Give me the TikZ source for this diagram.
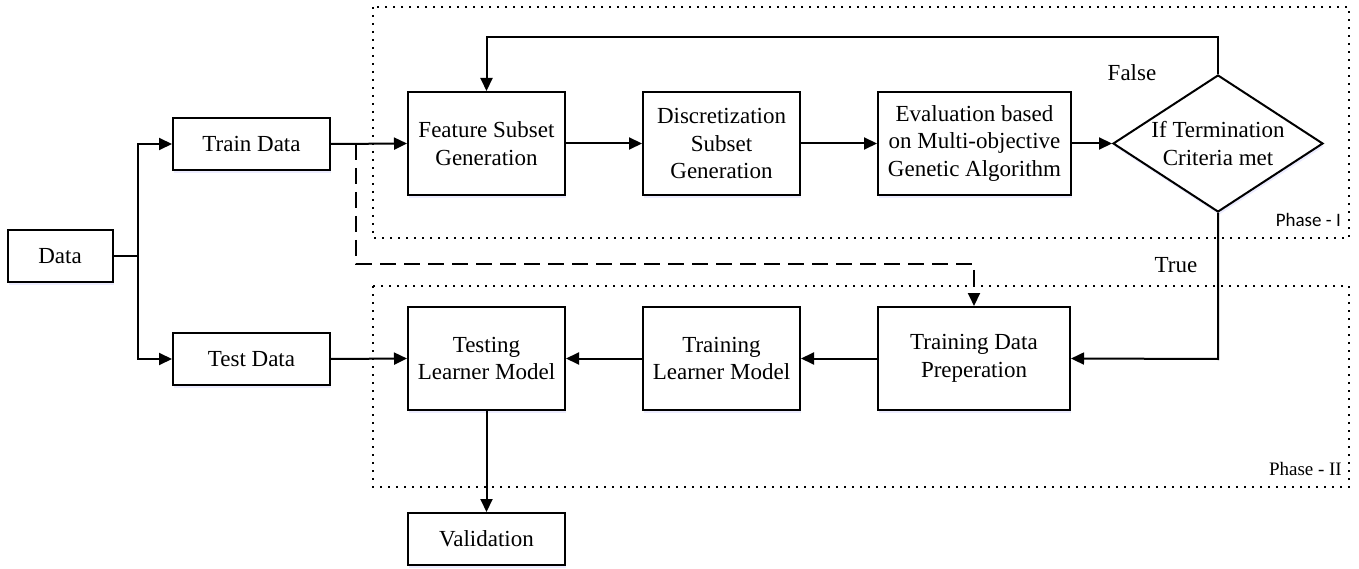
\documentclass[tikz,border=0pt]{standalone}
\usepackage{fontspec}
\setmainfont{Liberation Serif}
\newfontfamily\phasefont{Carlito}
\usetikzlibrary{shapes.geometric,arrows.meta,shadows}
\begin{document}
\begin{tikzpicture}[x=1pt,y=-1pt,
  every node/.style={font=\fontsize{23}{27.5}\selectfont},
  soft/.style={drop shadow={shadow xshift=1pt, shadow yshift=-3pt, fill=blue!12, opacity=0.6}},
  box/.style={draw, line width=2pt, inner sep=0pt, align=center, fill=white, soft},
  cond/.style={draw, line width=2pt, shape=diamond, aspect=1.53, inner sep=0pt,
    minimum width=210pt, minimum height=137pt, align=center, fill=white, soft},
  conn/.style={line width=2pt},
  arr/.style={conn, -{Triangle[length=13pt,width=12pt]}},
  dasharr/.style={arr, dash pattern=on 16pt off 8pt},
  phase/.style={draw, line width=1.6pt, dash pattern=on 1.6pt off 6.4pt, line cap=butt},
  lbl/.style={inner sep=0pt}
]
\useasboundingbox (0,0) rectangle (1359,569);
% phase regions
\draw[phase] (373,7) rectangle (1349,238);
\draw[phase] (373,286) rectangle (1349,487);
\node[lbl, anchor=base east, font=\phasefont\fontsize{19}{22}\selectfont] (p1) at (1341,227) {Phase - I};
\node[lbl, anchor=base east, font=\fontsize{19}{22}\selectfont] (p2) at (1342,475) {Phase - II};

% nodes
\node[box, minimum width=105pt, minimum height=51pt] (data) at (60,256) {Data};
\node[box, minimum width=157pt, minimum height=52pt] (train) at (251.5,144) {Train Data};
\node[box, minimum width=157pt, minimum height=52pt] (test) at (251.5,359) {Test Data};
\node[box, minimum width=157pt, minimum height=103pt] (feat) at (486.5,143.5) {Feature Subset\\Generation};
\node[box, minimum width=157pt, minimum height=103pt] (disc) at (721.5,143.5) {Discretization\\Subset\\Generation};
\node[box, minimum width=193pt, minimum height=103pt] (eval) at (974.5,143.5) {Evaluation based\\on Multi-objective\\Genetic Algorithm};
\node[cond] (dia) at (1218,143.5) {If Termination\\Criteria met};
\node[box, minimum width=192pt, minimum height=103pt] (tdp) at (974,358.5) {Training Data\\Preperation};
\node[box, minimum width=157pt, minimum height=103pt] (tlm) at (721.5,358.5) {Training\\Learner Model};
\node[box, minimum width=157pt, minimum height=103pt] (testing) at (486.5,358.5) {Testing\\Learner Model};
\node[box, minimum width=157pt, minimum height=52pt] (valid) at (486.5,539) {Validation};

\node[lbl] (false) at (1132,73) {False};
\node[lbl] (true) at (1176,265) {True};

% helper coordinates
\coordinate (br) at (138,256);
\coordinate (split) at (356,144);
\coordinate (dk) at (356,264);
\coordinate (fb) at (1218,37);
\coordinate (tr) at (1218,359);

% connectors
\draw[conn] (data.east) -- (br);
\draw[arr] (br) |- (train.west);
\draw[arr] (br) |- (test.west);
\draw[arr] (train.east) -- (feat.west);
\draw[dasharr] (split) -- (dk) -| (tdp.north);
\draw[arr] (feat.east) -- (disc.west);
\draw[arr] (disc.east) -- (eval.west);
\draw[arr] (eval.east) -- (dia.west);
\draw[arr] (dia.north) -- (fb) -| (feat.north);
\draw[arr] (dia.south) -- (tr) -- (tdp.east);
\draw[arr] (tdp.west) -- (tlm.east);
\draw[arr] (tlm.west) -- (testing.east);
\draw[arr] (test.east) -- (testing.west);
\draw[arr] (testing.south) -- (valid.north);
\end{tikzpicture}
\end{document}
